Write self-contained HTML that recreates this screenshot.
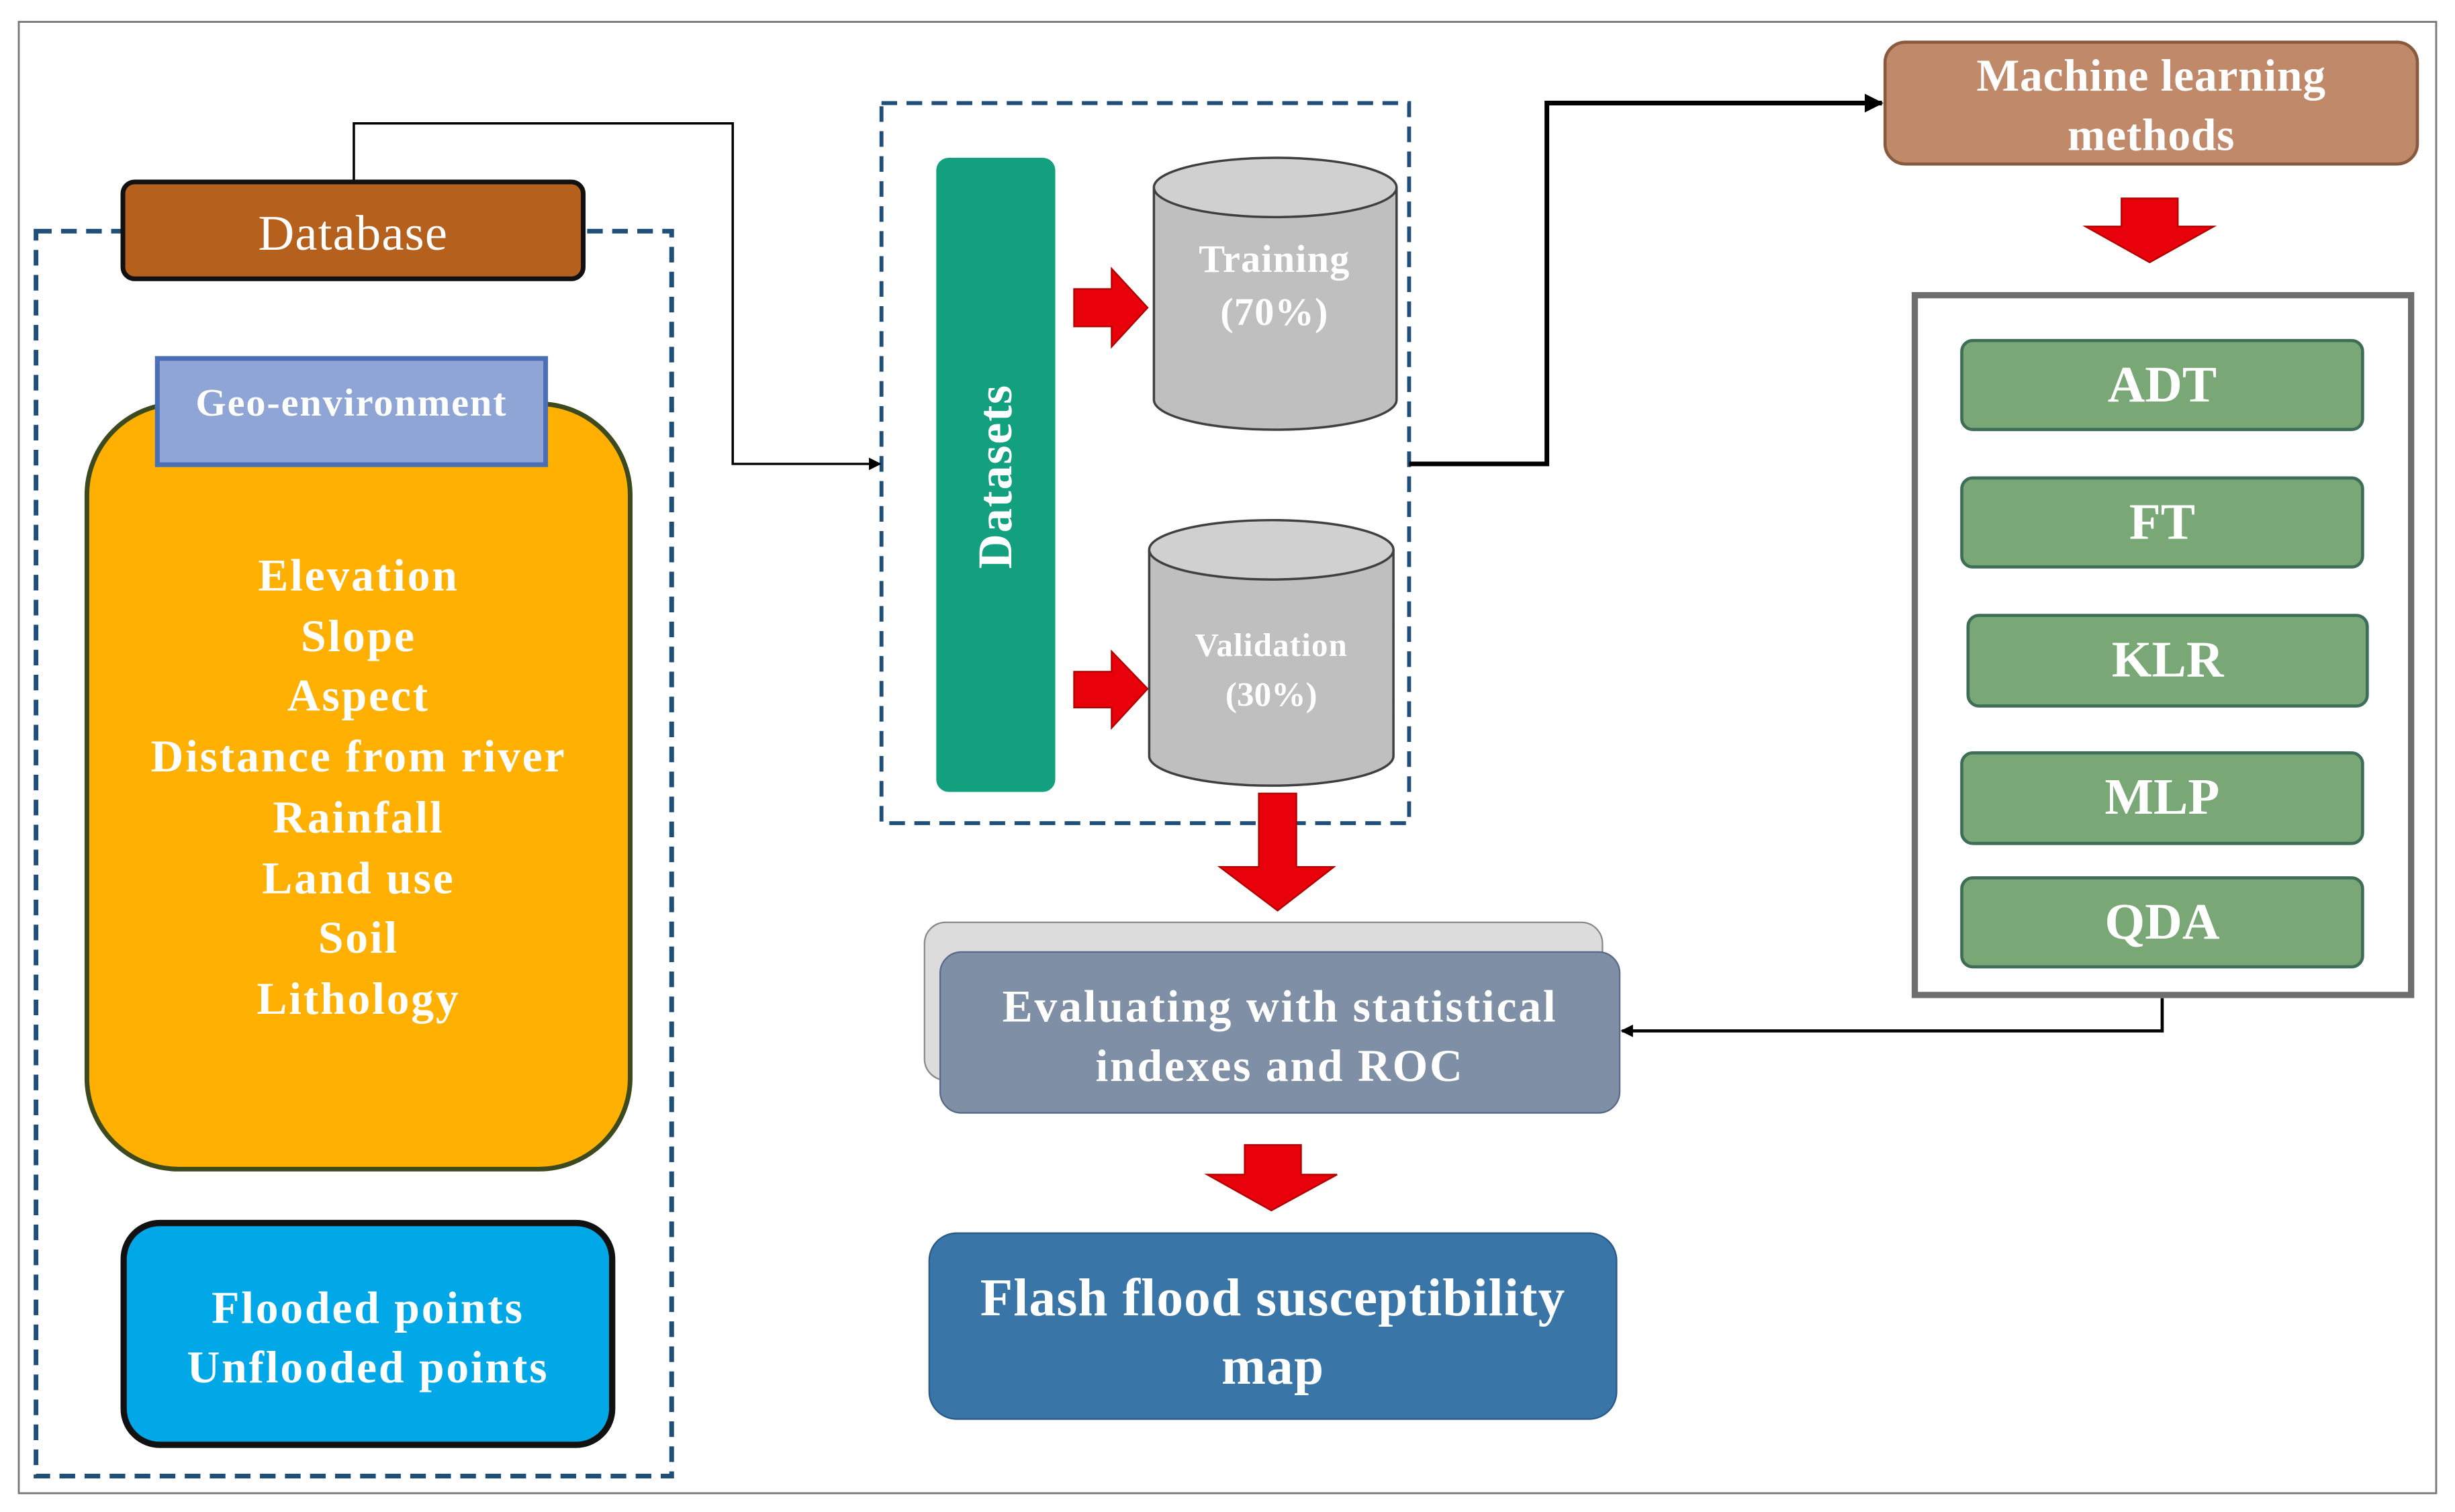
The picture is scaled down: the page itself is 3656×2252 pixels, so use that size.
<!DOCTYPE html>
<html><head><meta charset="utf-8"><style>
html,body{margin:0;padding:0;background:#fff;overflow:hidden}
#c{position:absolute;left:0;top:0;width:1568px;height:968px;transform-origin:0 0;transform:scale(2.3316,2.3264);font-family:"Liberation Serif",serif;}
.a{position:absolute;box-sizing:border-box}
.t{position:absolute;left:0;right:0;text-align:center;color:#fff;font-weight:bold;white-space:nowrap}
</style></head><body><div id="c">
<svg class="a" style="left:0;top:0" width="1568" height="968">
<defs>
<marker id="ah" markerWidth="8" markerHeight="8" refX="7" refY="4" orient="auto" markerUnits="userSpaceOnUse"><path d="M0,0 L8,4 L0,8 z" fill="#000"/></marker>
<marker id="ah2" markerWidth="12" markerHeight="12" refX="11" refY="6" orient="auto" markerUnits="userSpaceOnUse"><path d="M0,0 L12,6 L0,12 z" fill="#000"/></marker>
</defs>
<rect x="12" y="14" width="1544" height="942" fill="none" stroke="#777" stroke-width="1.2"/>
<rect x="23" y="148" width="406" height="797" fill="none" stroke="#1f4e79" stroke-width="3" stroke-dasharray="10,6"/>
<rect x="563" y="66" width="337" height="461" fill="none" stroke="#1f4e79" stroke-width="2.5" stroke-dasharray="10,6"/>
<polyline points="226,115 226,79 468,79 468,297 562,297" fill="none" stroke="#000" stroke-width="1.5" marker-end="url(#ah)"/>
<polyline points="900,297 988,297 988,66 1202,66" fill="none" stroke="#000" stroke-width="3" marker-end="url(#ah2)"/>
<polyline points="1381,639 1381,660 1036,660" fill="none" stroke="#000" stroke-width="2" marker-end="url(#ah)"/>
<path d="M686,185 L710,185 L710,172 L733,197 L710,222 L710,209 L686,209 z" fill="#e8000b" stroke="#b00000"/>
<path d="M686,430 L710,430 L710,417 L733,441 L710,466 L710,453 L686,453 z" fill="#e8000b" stroke="#b00000"/>
<path d="M804,508 L828,508 L828,555 L852,555 L816,583 L779,555 L804,555 z" fill="#e8000b" stroke="#b00000"/>
<path d="M1355,127 L1391,127 L1391,145 L1414,145 L1373,168 L1332,145 L1355,145 z" fill="#e8000b" stroke="#b00000"/>
<path d="M795,733 L831,733 L831,752 L854,752 L812,775 L771,752 L795,752 z" fill="#e8000b" stroke="#b00000"/>
<path d="M737,120 L737,256 A77,19 0 0 0 892,256 L892,120" fill="#bfbfbf" stroke="#404040" stroke-width="1.5"/>
<ellipse cx="814.5" cy="120" rx="77.5" ry="19" fill="#d0d0d0" stroke="#404040" stroke-width="1.5"/>
<path d="M734,352 L734,484 A78,19 0 0 0 890,484 L890,352" fill="#bfbfbf" stroke="#404040" stroke-width="1.5"/>
<ellipse cx="812" cy="352" rx="78" ry="19" fill="#d0d0d0" stroke="#404040" stroke-width="1.5"/>
<text x="814" y="174" font-family="Liberation Serif,serif" font-weight="bold" font-size="25" fill="#fff" text-anchor="middle" letter-spacing="0.5">Training</text>
<text x="814" y="208" font-family="Liberation Serif,serif" font-weight="bold" font-size="25" fill="#fff" text-anchor="middle" letter-spacing="0.5">(70%)</text>
<text x="812" y="420" font-family="Liberation Serif,serif" font-weight="bold" font-size="21" fill="#fff" text-anchor="middle" letter-spacing="0.5">Validation</text>
<text x="812" y="452" font-family="Liberation Serif,serif" font-weight="bold" font-size="22" fill="#fff" text-anchor="middle">(30%)</text>
</svg>

<div class="a" style="left:54px;top:257px;width:350px;height:493px;background:#ffb000;border:3px solid #3d4a1e;border-radius:60px"></div>
<div class="a" style="left:77px;top:115px;width:297px;height:65px;background:#b5601c;border:3px solid #111;border-radius:9px"><div class="t" style="top:13px;font-weight:normal;font-size:32px;letter-spacing:0.5px">Database</div></div>
<div class="a" style="left:99px;top:228px;width:251px;height:71px;background:#8ea5d6;border:3px solid #4a6fb5"><div class="t" style="top:14px;font-size:25px;letter-spacing:0.8px">Geo-environment</div></div>
<div class="t" style="left:54px;width:350px;top:350px;font-size:29px;line-height:38.7px;letter-spacing:1.2px">Elevation<br>Slope<br>Aspect<br>Distance from river<br>Rainfall<br>Land use<br>Soil<br>Lithology</div>
<div class="a" style="left:77px;top:781px;width:316px;height:146px;background:#00a8e8;border:4px solid #111;border-radius:25px"><div class="t" style="top:34px;font-size:29px;line-height:38px;letter-spacing:1.2px">Flooded points<br>Unflooded points</div></div>

<div class="a" style="left:598px;top:101px;width:76px;height:406px;background:#13a07e;border-radius:8px"><div class="t" style="top:186px;left:-60px;right:-60px;font-size:31px;transform:rotate(-90deg);letter-spacing:0.8px">Datasets</div></div>

<div class="a" style="left:1203px;top:26px;width:342px;height:80px;background:#c0896a;border:2px solid #8a5a3e;border-radius:14px"><div class="t" style="top:2px;font-size:29px;line-height:38px;letter-spacing:0.3px">Machine learning<br>methods</div></div>
<div class="a" style="left:1221px;top:187px;width:321px;height:452px;border:4px solid #6e6e6e;background:#fff"></div>
<div class="a" style="left:1252px;top:217px;width:258px;height:59px;background:#79a776;border:2px solid #3e6e58;border-radius:8px"><div class="t" style="top:10px;font-size:33px">ADT</div></div>
<div class="a" style="left:1252px;top:305px;width:258px;height:59px;background:#79a776;border:2px solid #3e6e58;border-radius:8px"><div class="t" style="top:10px;font-size:33px">FT</div></div>
<div class="a" style="left:1256px;top:393px;width:257px;height:60px;background:#79a776;border:2px solid #3e6e58;border-radius:8px"><div class="t" style="top:10px;font-size:33px">KLR</div></div>
<div class="a" style="left:1252px;top:481px;width:258px;height:60px;background:#79a776;border:2px solid #3e6e58;border-radius:8px"><div class="t" style="top:10px;font-size:33px">MLP</div></div>
<div class="a" style="left:1252px;top:561px;width:258px;height:59px;background:#79a776;border:2px solid #3e6e58;border-radius:8px"><div class="t" style="top:10px;font-size:33px">QDA</div></div>

<div class="a" style="left:590px;top:590px;width:434px;height:102px;background:#dcdcdc;border:1.5px solid #8a8a8a;border-radius:14px"></div>
<div class="a" style="left:600px;top:609px;width:435px;height:104px;background:#7f8fa6;border:1.5px solid #5a6b88;border-radius:14px"><div class="t" style="top:16px;font-size:29px;line-height:38px;letter-spacing:1.2px">Evaluating with statistical<br>indexes and ROC</div></div>
<div class="a" style="left:593px;top:789px;width:440px;height:120px;background:#3a75a8;border:1.5px solid #2a5a88;border-radius:18px"><div class="t" style="top:20px;font-size:34px;line-height:44px;letter-spacing:0.5px">Flash flood susceptibility<br>map</div></div>
</div></body></html>
